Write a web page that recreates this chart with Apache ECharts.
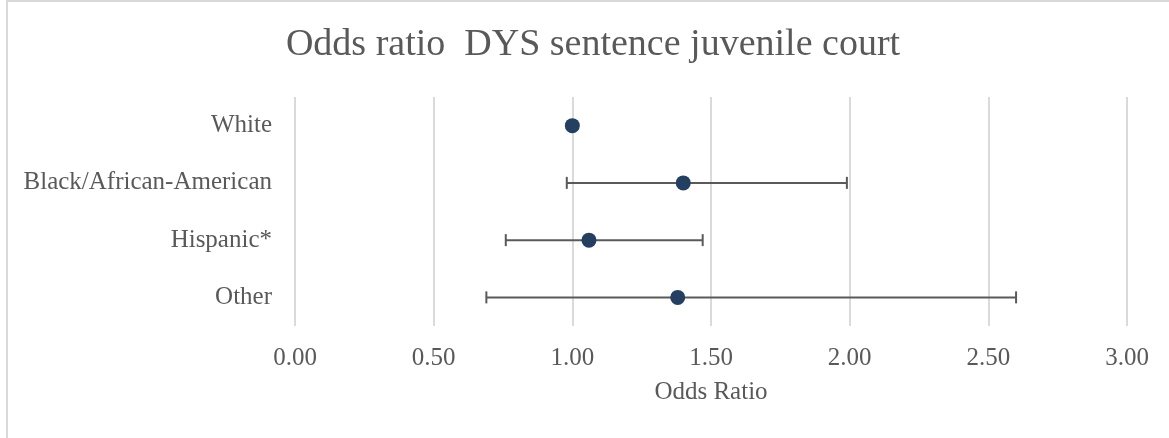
<!DOCTYPE html>
<html>
<head>
<meta charset="utf-8">
<script src="https://cdn.jsdelivr.net/npm/echarts@6/dist/echarts.min.js"></script>
<style>
	html, body { margin: 0; padding: 0; background: #fff; }
	#frame { position: absolute; left: 6px; top: 0; width: 1163px; height: 438px; border-left: 2px solid #d9d9d9; border-top: 2px solid #d9d9d9; box-sizing: border-box; }
	#oddsChart { position: absolute; left: 0; top: 0; width: 1169px; height: 438px; }
</style>
</head>
<body>
<div id="frame"></div>
<div id="oddsChart"></div>
<script>
// 数据
var groups = ['White', 'Black/African-American', 'Hispanic*', 'Other'];
var oddsRatio = [1.00, 1.40, 1.06, 1.38];
var lowerCI = [null, 0.98, 0.76, 0.69];
var upperCI = [null, 1.99, 1.47, 2.60];
var xTicks = [0, 0.5, 1, 1.5, 2, 2.5, 3];

var fontFamily = '"Liberation Serif", "DejaVu Serif", serif';
var textColor = '#595959';

var errorData = [];
groups.forEach(function(g, i) {
	if (lowerCI[i] !== null) {
		errorData.push([i, lowerCI[i], upperCI[i]]);
	}
});

var oddsChart = echarts.init(document.getElementById('oddsChart'));
oddsChart.setOption({
	animation : false,
	title : {
		text : 'Odds ratio  DYS sentence juvenile court',
		left : 593,
		textAlign : 'center',
		top : 26,
		padding : 0,
		textStyle : {
			fontFamily : fontFamily,
			fontSize : 38,
			fontWeight : 'normal',
			color : textColor
		}
	},
	grid : {
		left : 295,
		right : 42,
		top : 97,
		bottom : 112
	},
	xAxis : {
		type : 'value',
		min : xTicks[0],
		max : xTicks[xTicks.length - 1],
		interval : 0.5,
		name : 'Odds Ratio',
		nameLocation : 'middle',
		nameGap : 54,
		nameTextStyle : {
			fontFamily : fontFamily,
			fontSize : 25,
			color : textColor
		},
		axisLine : { show : false },
		axisTick : { show : false },
		axisLabel : {
			margin : 20,
			fontFamily : fontFamily,
			fontSize : 25,
			color : textColor,
			formatter : function(v) { return v.toFixed(2); }
		},
		splitLine : {
			show : true,
			lineStyle : { color : '#dadada', width : 2 }
		}
	},
	yAxis : {
		type : 'category',
		data : groups,
		inverse : true,
		axisLine : { show : false },
		axisTick : { show : false },
		splitLine : { show : false },
		axisLabel : {
			margin : 23,
			fontFamily : fontFamily,
			fontSize : 25,
			color : textColor
		}
	},
	series : [{
		type : 'custom',
		name : 'CI',
		data : errorData,
		encode : { x : [1, 2], y : 0 },
		renderItem : function(params, api) {
			var cat = api.value(0);
			var lo = api.coord([api.value(1), cat]);
			var hi = api.coord([api.value(2), cat]);
			var capH = 6;
			var style = { stroke : '#5a5a5a', lineWidth : 2, fill : null };
			return {
				type : 'group',
				children : [{
					type : 'line',
					shape : { x1 : lo[0], y1 : lo[1], x2 : hi[0], y2 : hi[1] },
					style : style
				}, {
					type : 'line',
					shape : { x1 : lo[0], y1 : lo[1] - capH, x2 : lo[0], y2 : lo[1] + capH },
					style : style
				}, {
					type : 'line',
					shape : { x1 : hi[0], y1 : hi[1] - capH, x2 : hi[0], y2 : hi[1] + capH },
					style : style
				}]
			};
		},
		z : 2
	}, {
		type : 'scatter',
		name : 'Odds Ratio',
		data : oddsRatio.map(function(v, i) { return [v, i]; }),
		symbol : 'circle',
		symbolSize : 15,
		itemStyle : { color : '#243f60', opacity : 1 },
		z : 3
	}]
});
</script>
</body>
</html>
